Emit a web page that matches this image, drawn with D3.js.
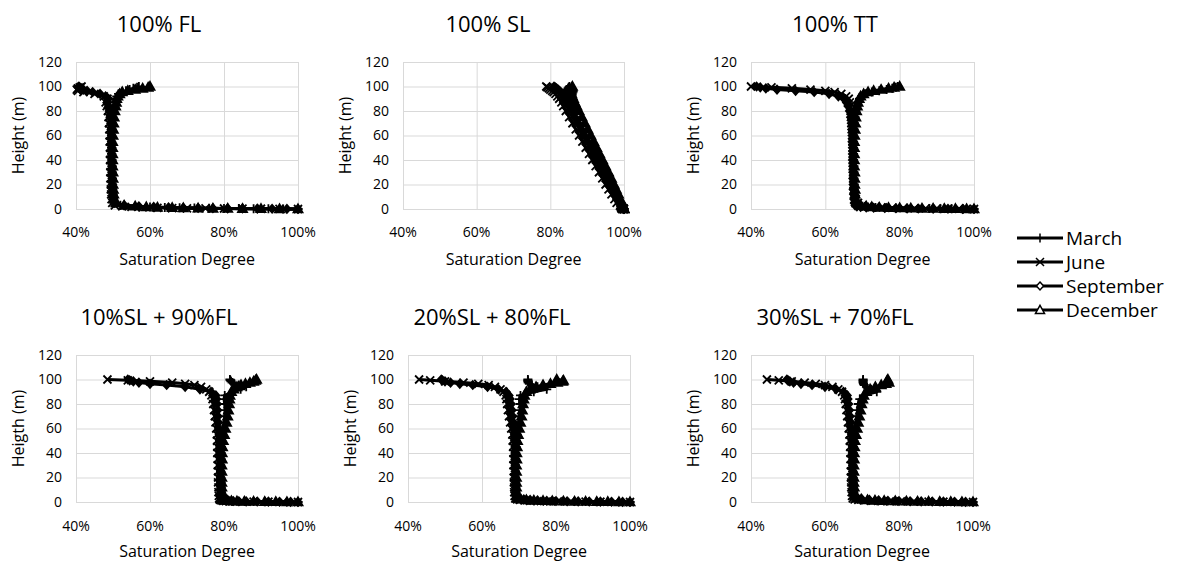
<!DOCTYPE html>
<html><head><meta charset="utf-8">
<script src="https://cdn.jsdelivr.net/npm/d3@7"></script>
<style>
body{margin:0;background:#fff}
text{font-family:"Open Sans",sans-serif;fill:#000}
</style>
</head><body>
<svg id="c" width="1187" height="563"></svg>
<script>
// ---------- data ----------
const heights = [0,0.1,0.2,0.3,0.4,0.5,0.6,0.8,1,1.3,1.7,2.2,3,5,8,12,16,20,25,30,35,40,45,50,55,60,65,70,75,80,84,87,90,92,94,95.5,96.5,97.5,98.5,99.3,100];
const xTicks = [40,60,80,100];
const yTicks = [0,20,40,60,80,100,120];
const months = ["March","June","September","December"];
const titles = ["100% FL","100% SL","100% TT","10%SL + 90%FL","20%SL + 80%FL","30%SL + 70%FL"];
const yTitles = ["Height (m)","Height (m)","Height (m)","Heigth (m)","Height (m)","Heigth (m)"];
const xTitle = "Saturation Degree";

// 100% FL
const fl_march = [100,96,92,88,84,80,76,72,68,64,60,56,52,50.3,50.1,50,49.9,49.8,49.8,49.7,49.7,49.7,49.6,49.6,49.6,49.6,49.7,49.8,49.9,50.1,50.3,50.5,50.7,51,51.5,52.5,53.5,54.5,55.5,56.5,57];
const fl_june = [100,95,90,85,80,75,70,66,62,58,55,52.5,50.5,49.8,49.6,49.5,49.4,49.4,49.3,49.3,49.3,49.2,49.2,49.2,49.1,49.1,49,48.9,48.8,48.6,48.3,48,48.5,47.5,45,42,40.5,40.2,40.5,41,41.5];
const fl_september = [100,97,93,89,85,81,77,73,69,65,61,57,53,50.5,50.2,50,49.9,49.9,49.8,49.8,49.8,49.7,49.7,49.7,49.6,49.6,49.5,49.4,49.2,49,48.8,48.5,48.8,48,46.5,44.5,43,42,41.5,41,40.8];
const fl_december = [100,95,90,85,81,77,73,69,66,62,59,56,53,50.8,50.4,50.2,50.1,50,50,50,49.9,49.9,49.9,49.9,49.9,50,50.1,50.2,50.3,50.5,50.7,50.9,51,51.3,51.8,52.5,54,56,58,59.5,60];
// 100% SL
const sl_march = [100,100,99.9,99.9,99.8,99.8,99.8,99.7,99.7,99.6,99.5,99.4,99.2,98.9,98.4,97.7,97,96.3,95.5,94.6,93.8,92.9,92.1,91.2,90.4,89.5,88.7,87.8,87,86.2,85.6,85.2,84.8,84.5,84.3,84.2,84.3,84.5,84.8,85,85.2];
const sl_june = [100,99.9,99.9,99.8,99.8,99.7,99.7,99.6,99.5,99.4,99.3,99.2,99,98,97.4,96.6,95.8,95,94.1,93.2,92.3,91.4,90.5,89.6,88.7,87.8,86.9,86,85.1,84.2,83.5,83,82.4,81.9,81.4,80.9,80.5,80,79.6,79.2,78.9];
const sl_september = [100,100,99.9,99.9,99.8,99.8,99.7,99.7,99.6,99.5,99.4,99.3,99.1,98.8,98.3,97.6,96.9,96.1,95.3,94.4,93.6,92.7,91.9,91,90.1,89.2,88.4,87.5,86.6,85.7,85,84.5,84,83.6,83.2,82.8,82.5,82.1,81.7,81.3,81];
const sl_december = [100,100,100,99.9,99.9,99.9,99.8,99.8,99.7,99.7,99.6,99.5,99.3,99.4,99,98.5,97.9,97.3,96.6,95.8,95,94.2,93.4,92.6,91.8,91,90.2,89.4,88.6,87.8,87.2,86.7,86.3,86,85.8,85.6,85.6,85.7,85.8,85.9,86];
// 100% TT
const tt_march = [100,97,94,91,88,85,82,79,76,73.5,71.5,70,69,68.3,68,67.9,67.8,67.8,67.7,67.7,67.7,67.6,67.6,67.6,67.6,67.6,67.7,67.8,68,68.2,68.5,68.8,69.2,69.8,70.8,72.5,74.5,76.5,78,79,79.5];
const tt_june = [100,98,96,93,90,87,84,81,78,75.5,73.5,71.5,70,68.8,68.2,67.9,67.7,67.6,67.5,67.5,67.4,67.4,67.4,67.3,67.3,67.2,67.1,67,66.9,66.8,66.7,66.6,66.3,65.6,64.3,62.5,60,56,51,45.5,40];
const tt_september = [100,97,93,89,85,82,79,76,73,71,69.5,68.5,68,67.8,67.7,67.6,67.5,67.5,67.4,67.4,67.4,67.3,67.3,67.3,67.2,67.2,67.1,67,66.8,66.5,66.1,65.7,65,63.5,61,57,52,47,44,42.5,41.5];
const tt_december = [100,98,95,92,89,86,83,80,77,74.5,72.5,71,69.5,68.5,68.2,68,68,67.9,67.9,67.9,67.8,67.8,67.8,67.8,67.8,67.9,68,68.1,68.2,68.4,68.6,68.8,69.1,69.5,70.3,71.5,73,75,77,78.5,80];
// 10%SL + 90%FL
const p10_march = [100,97,94,91,88,85.5,83.5,82,81,80.3,79.9,79.6,79.4,79.3,79.2,79.2,79.1,79.1,79.1,79.1,79.2,79.2,79.3,79.4,79.6,79.8,80,80.2,80.3,80.2,80,80.2,82.5,84.5,86,84,82.8,82.2,81.9,81.7,81.6];
const p10_june = [100,96,92,88,85,83,81.5,80.5,79.8,79.3,79,78.8,78.7,78.6,78.5,78.5,78.4,78.4,78.4,78.3,78.3,78.2,78.2,78.1,78.1,77.9,77.7,77.5,77.3,77.1,76.9,76.6,76,75.2,73.8,72,69.5,66,60,54,48.5];
const p10_september = [100,98,95,92,89,86,84,82.5,81.3,80.5,80,79.7,79.5,79.4,79.3,79.2,79.2,79.1,79.1,79,79,78.9,78.9,78.8,78.7,78.6,78.5,78.4,78.3,78.2,78,77.8,76.5,73.5,69.5,64.5,60,57,55.5,54.5,54];
const p10_december = [100,97,94,91,88,85.5,83.5,82,81,80.4,80,79.8,79.6,79.5,79.5,79.4,79.4,79.4,79.4,79.4,79.5,79.5,79.6,79.8,80.1,80.4,80.7,81,81.2,81.4,81.5,81.6,82,82.6,83.5,84.6,85.8,87,88,88.5,88.8];
// 20%SL + 80%FL
const p20_march = [100,97,94,91,88,85,82,79,76.5,74,72,70.5,69.5,69.2,69.1,69.1,69,69,69,69,69.1,69.1,69.2,69.3,69.5,69.7,69.9,70.1,70.3,70.3,70.1,70.4,74,77.5,75,73.5,72.8,72.5,72.4,72.4,72.4];
const p20_june = [100,96,92,88,84,80.5,77.5,75,73,71.5,70.3,69.5,69,68.8,68.7,68.7,68.6,68.6,68.6,68.5,68.5,68.5,68.4,68.3,68.2,67.9,67.6,67.3,67,66.8,66.6,66.4,65.8,65,63.5,61.8,59,55,50,46,43];
const p20_september = [100,98,95,92,89,86,83,80,77.5,75,73,71.3,70,69.4,69.2,69.1,69.1,69,69,69,68.9,68.9,68.9,68.8,68.8,68.7,68.5,68.3,68.1,67.9,67.6,67.3,66.5,64.5,61.5,57.5,54,51.5,50,49.3,49];
const p20_december = [100,97,94,91,88,85,82,79,76.5,74,72,70.5,69.6,69.4,69.3,69.3,69.3,69.3,69.3,69.3,69.4,69.4,69.5,69.6,69.8,70.1,70.4,70.7,70.9,71.1,71.3,71.5,72,73,74.6,76.5,78.5,80.4,81.8,82,80.2];
// 30%SL + 70%FL
const p30_march = [100,97,94,91,88,85,82,79,76,73.5,71.5,69.5,68.3,67.8,67.6,67.6,67.5,67.5,67.5,67.5,67.6,67.6,67.7,67.8,68,68.2,68.4,68.6,68.8,69,69.4,70.5,74,72.5,71.2,70.6,70.4,70.3,70.3,70.3,70.3];
const p30_june = [100,96,92,88,84,80.5,77.5,75,72.5,70.5,69,68,67.5,67.3,67.2,67.1,67.1,67,67,67,66.9,66.9,66.8,66.7,66.6,66.4,66.2,66,65.8,65.6,65.4,65.2,64.6,63.6,62,60,57.5,54.5,51,47.5,44.3];
const p30_september = [100,98,95,92,89,86,83,80,77,74.5,72,70,68.8,68,67.8,67.7,67.6,67.6,67.5,67.5,67.5,67.4,67.4,67.3,67.2,67.1,67,66.8,66.6,66.4,66.2,66,65,63,60,56.5,53.5,51.5,50.5,50,49.7];
const p30_december = [100,97,94,91,88,85,82,79,76,73.5,71.5,69.8,68.6,68.1,67.9,67.9,67.8,67.8,67.8,67.8,67.9,67.9,68,68.1,68.4,68.7,69,69.3,69.6,69.9,70.2,70.5,71.2,72.2,73.6,75.2,76.5,77.3,77,76.8,77];

const panelSeries = [
  [fl_march, fl_june, fl_september, fl_december],
  [sl_march, sl_june, sl_september, sl_december],
  [tt_march, tt_june, tt_september, tt_december],
  [p10_march, p10_june, p10_september, p10_december],
  [p20_march, p20_june, p20_september, p20_december],
  [p30_march, p30_june, p30_september, p30_december]
];

// ---------- layout ----------
const layout = [
  {l:76,  r:298, t:62,  b:209, ty:32,  tx:159, lab:237, at:265},
  {l:403, r:624, t:62,  b:209, ty:32,  tx:488, lab:237, at:265},
  {l:751, r:974, t:62,  b:209, ty:32,  tx:835, lab:237, at:265},
  {l:76,  r:298, t:355, b:502, ty:325, tx:159, lab:531, at:557},
  {l:408, r:630, t:355, b:502, ty:325, tx:492, lab:531, at:557},
  {l:751, r:973, t:355, b:502, ty:325, tx:835, lab:531, at:557}
];

const markerPaths = [
  "M-4.5,0H4.5M0,-4.5V4.5",
  "M-4,-4L4,4M-4,4L4,-4",
  "M0,-4L3.6,0L0,4L-3.6,0Z",
  "M0,-4.6L4.5,3.4L-4.5,3.4Z"
];
const plotFill = ["none","none","#000","#000"];
const legendFill = ["none","none","#fff","#fff"];

const svg = d3.select("#c");

panelSeries.forEach((series, pi) => {
  const L = layout[pi];
  const x = d3.scaleLinear().domain([40,100]).range([L.l, L.r]);
  const y = d3.scaleLinear().domain([0,120]).range([L.b, L.t]);
  const g = svg.append("g");

  // gridlines
  g.append("g").attr("transform", `translate(0,${L.b})`)
    .call(d3.axisBottom(x).tickValues(xTicks).tickSize(-(L.b-L.t)).tickFormat(""))
    .call(s => { s.select(".domain").remove(); s.selectAll("line").attr("stroke","#d9d9d9"); });
  g.append("g").attr("transform", `translate(${L.l},0)`)
    .call(d3.axisLeft(y).tickValues(yTicks).tickSize(-(L.r-L.l)).tickFormat(""))
    .call(s => { s.select(".domain").remove(); s.selectAll("line").attr("stroke","#d9d9d9"); });

  // tick labels
  g.selectAll(".xl").data(xTicks).join("text")
    .attr("x", d => x(d)).attr("y", L.lab).attr("text-anchor","middle")
    .attr("font-size", 14).text(d => d + "%");
  g.selectAll(".yl").data(yTicks).join("text")
    .attr("x", L.l - 14).attr("y", d => y(d)).attr("dy","0.35em").attr("text-anchor","end")
    .attr("font-size", 14).text(d => d);

  // titles
  g.append("text").attr("x", L.tx).attr("y", L.ty).attr("text-anchor","middle")
    .attr("font-size", 22).text(titles[pi]);
  g.append("text").attr("x", (L.l+L.r)/2).attr("y", L.at).attr("text-anchor","middle")
    .attr("font-size", 16).text(xTitle);
  g.append("text").attr("transform", `translate(${L.l-58},${(L.t+L.b)/2}) rotate(-90)`)
    .attr("dy","0.35em").attr("text-anchor","middle").attr("font-size", 16).text(yTitles[pi]);

  const line = d3.line().x(d => x(d[0])).y(d => y(d[1]));
  series.forEach((vals, si) => {
    const pts = vals.map((v, i) => [v, heights[i]]);
    g.append("path").attr("d", line(pts)).attr("fill","none")
      .attr("stroke","#000").attr("stroke-width",3).attr("stroke-linejoin","round");
    g.selectAll(null).data(pts).join("path")
      .attr("transform", d => `translate(${x(d[0])},${y(d[1])})`)
      .attr("d", markerPaths[si]).attr("fill", plotFill[si])
      .attr("stroke","#000").attr("stroke-width",1.8);
  });
});

// legend
const legY = d3.scalePoint().domain(months).range([238, 310]);
const leg = svg.append("g");
months.forEach((m, i) => {
  const yy = legY(m);
  leg.append("line").attr("x1",1017).attr("x2",1063).attr("y1",yy).attr("y2",yy)
    .attr("stroke","#000").attr("stroke-width",3);
  leg.append("path").attr("transform",`translate(1040,${yy})`).attr("d", markerPaths[i])
    .attr("fill", legendFill[i]).attr("stroke","#000").attr("stroke-width",1.5);
  leg.append("text").attr("x",1066).attr("y",yy).attr("dy","0.35em")
    .attr("font-family","Lato, sans-serif").attr("font-size",19).text(m);
});
</script>
</body></html>
